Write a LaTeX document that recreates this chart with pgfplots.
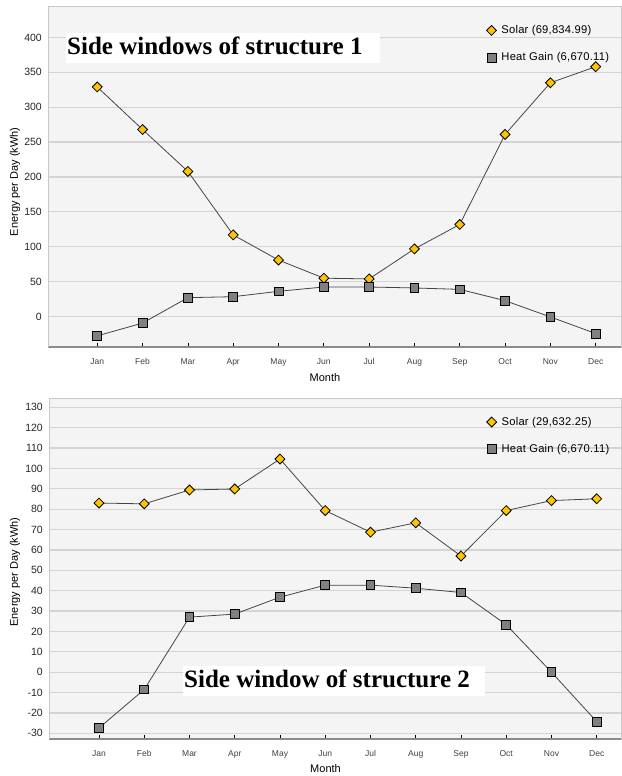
\documentclass[border=0pt]{standalone}
\usepackage{fontspec}
\setmainfont{Liberation Sans}
\newfontfamily\titlefont{Liberation Serif}
\usepackage{pgfplots}
\pgfplotsset{compat=1.18}

\definecolor{plotbg}{HTML}{F4F4F4}
\definecolor{gridgray}{HTML}{D4D4D4}
\definecolor{framegray}{HTML}{C8C8C8}
\definecolor{axisgray}{HTML}{8C8C8C}
\definecolor{solarfill}{HTML}{FFC400}
\definecolor{heatfill}{HTML}{808080}
\definecolor{linegray}{HTML}{454545}

\tikzset{
  titlebox/.style={fill=white, anchor=north west, inner xsep=1pt, inner ysep=0pt,
    text height=21.3pt, text depth=8.7pt, font=\titlefont\bfseries\fontsize{25}{28}\selectfont},
}

\pgfplotsset{
  energy/.style={
    scale only axis,
    axis x line*=bottom,
    axis y line*=left,
    axis background/.style={fill=plotbg, draw=framegray, line width=0.8pt},
    x axis line style={draw=axisgray, line width=1.6pt},
    y axis line style={draw=framegray, line width=0.8pt},
    xtick={0,...,11},
    xticklabels={Jan,Feb,Mar,Apr,May,Jun,Jul,Aug,Sep,Oct,Nov,Dec},
    xtick align=inside,
    major tick length=4pt,
    xtick style={draw=black, line width=0.7pt},
    ytick style={draw=none},
    /pgf/number format/assume math mode=true,
    xticklabel style={font=\fontsize{8.5}{10}\selectfont, text=black!75, anchor=base, yshift=-17pt},
    yticklabel style={font=\fontsize{10.5}{12}\selectfont, text=black!85, anchor=east, inner xsep=0pt, xshift=-6pt},
    ymajorgrids,
    grid style={draw=gridgray, line width=1.2pt},
    xlabel={Month},
    ylabel={Energy per Day (kWh)},
    xlabel style={font=\fontsize{11}{13}\selectfont, anchor=center},
    ylabel style={font=\fontsize{11}{13}\selectfont, anchor=center},
    legend cell align=left,
    legend image code/.code={\draw[##1] plot coordinates {(0pt,0pt)};},
    legend style={draw=none, fill=none, anchor=north west, inner sep=0pt,
      row sep=15.5pt, font=\fontsize{11.2}{13}\selectfont\addfontfeature{LetterSpace=2},
      nodes={inner xsep=5pt, inner ysep=1pt}},
  },
  solar/.style={draw=linegray, line width=0.8pt, mark=square*, mark size=3.5pt,
    mark options={rotate=45, fill=solarfill, draw=black, line width=0.8pt}},
  heat/.style={draw=linegray, line width=0.8pt, mark=square*, mark size=4.4pt,
    mark options={fill=heatfill, draw=black, line width=0.8pt}},
}

\begin{document}
\begin{tikzpicture}
\useasboundingbox (0pt,0pt) rectangle (621pt,776pt);

% structure 1
\begin{axis}[energy,
  at={(48pt,428.7pt)}, anchor=south west,
  width=573pt, height=340.6pt,
  xmin=-1.087, xmax=11.558,
  ymin=-44, ymax=444,
  ytick={0,50,...,400},
  xlabel style={at={(axis description cs:0.4834,-0.09)}},
  ylabel style={at={(axis description cs:-0.0576,0.486)}},
  legend style={at={(rel axis cs:0.765,0.948)}},
]
\addplot[solar] coordinates {
  (0,329) (1,268) (2,208) (3,117) (4,81) (5,55)
  (6,54) (7,97) (8,132) (9,261) (10,335) (11,358)
};
\addlegendentry{Solar (69,834.99)}
\addplot[heat] coordinates {
  (0,-27.6) (1,-9.3) (2,27.1) (3,28.5) (4,36.2) (5,42.4)
  (6,42.4) (7,41.0) (8,39.0) (9,22.8) (10,-0.5) (11,-24.3)
};
\addlegendentry{Heat Gain (6,670.11)}
\node[titlebox] at (rel axis cs:0.0314,0.9228) {Side windows of structure 1\kern16pt};
\end{axis}

% structure 2
\begin{axis}[energy,
  at={(49pt,37pt)}, anchor=south west,
  width=572pt, height=340.7pt,
  xmin=-1.105, xmax=11.537,
  ymin=-32.8, ymax=134.4,
  ytick={-30,-20,...,130},
  xlabel style={at={(axis description cs:0.4834,-0.088)}},
  ylabel style={at={(axis description cs:-0.0594,0.49)}},
  legend style={at={(rel axis cs:0.765,0.948)}},
]
\addplot[solar] coordinates {
  (0,83.0) (1,82.6) (2,89.4) (3,89.9) (4,104.6) (5,79.3)
  (6,68.7) (7,73.3) (8,57.0) (9,79.3) (10,84.2) (11,85.1)
};
\addlegendentry{Solar (29,632.25)}
\addplot[heat] coordinates {
  (0,-27.4) (1,-8.5) (2,27.0) (3,28.5) (4,36.8) (5,42.7)
  (6,42.7) (7,41.2) (8,39.1) (9,23.3) (10,0.0) (11,-24.3)
};
\addlegendentry{Heat Gain (6,670.11)}
\node[titlebox] at (rel axis cs:0.2343,0.2143) {Side window of structure 2\kern14pt};
\end{axis}
\end{tikzpicture}
\end{document}
